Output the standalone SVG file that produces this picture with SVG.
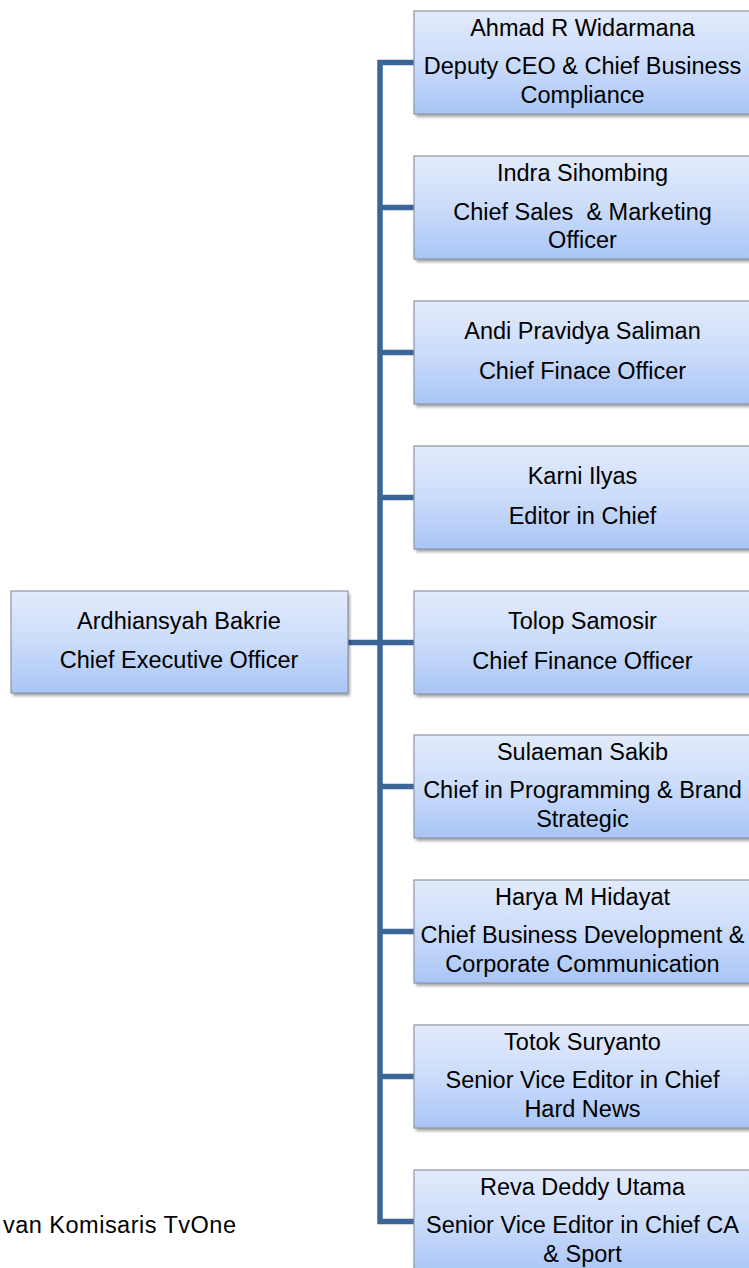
<svg xmlns="http://www.w3.org/2000/svg" width="749" height="1268" viewBox="0 0 749 1268">
<style>
.box{fill:url(#g);stroke:#8e96a3;stroke-width:1.2}
.sh{fill:#000;opacity:0.35;filter:url(#blur)}
text{font-family:"Liberation Sans",Arial,sans-serif;font-size:23.5px;fill:#000;text-anchor:middle;white-space:pre}
.conn{stroke:#3c6597;stroke-width:5.5;fill:none;stroke-linejoin:miter}
</style>
<defs>
<linearGradient id="g" x1="0" y1="0" x2="0" y2="1">
<stop offset="0" stop-color="#e3ebfb"/>
<stop offset="0.5" stop-color="#cbdcfa"/>
<stop offset="1" stop-color="#a9c5f6"/>
</linearGradient>
<filter id="blur" x="-10%" y="-10%" width="120%" height="130%"><feGaussianBlur stdDeviation="1.6"/></filter>
</defs>
<rect width="749" height="1268" fill="#fff"/>
<g id="connectors">
<path class="conn" d="M414,62.5 H380 V1221.5 H414"/>
<path class="conn" d="M380,207.5 H414 M380,352.5 H414 M380,497.5 H414 M348,642.5 H414 M380,786.5 H414 M380,931.5 H414 M380,1076.5 H414"/>
</g>
<g id="ceo">
<rect class="sh" x="13" y="594" width="337" height="102"/>
<rect class="box" x="11" y="591" width="337" height="102"/>
<text x="179" y="629">Ardhiansyah Bakrie</text>
<text x="179" y="668">Chief Executive Officer</text>
</g>
<g id="n1">
<rect class="sh" x="416" y="14" width="337" height="103"/>
<rect class="box" x="414" y="11" width="337" height="103"/>
<text x="582.5" y="36">Ahmad R Widarmana</text>
<text x="582.5" y="74">Deputy CEO &amp; Chief Business</text>
<text x="582.5" y="103">Compliance</text>
</g>
<g id="n2">
<rect class="sh" x="416" y="159" width="337" height="103"/>
<rect class="box" x="414" y="156" width="337" height="103"/>
<text x="582.5" y="181">Indra Sihombing</text>
<text x="582.5" y="220">Chief Sales  &amp; Marketing</text>
<text x="582.5" y="248">Officer</text>
</g>
<g id="n3">
<rect class="sh" x="416" y="304" width="337" height="103"/>
<rect class="box" x="414" y="301" width="337" height="103"/>
<text x="582.5" y="339">Andi Pravidya Saliman</text>
<text x="582.5" y="379">Chief Finace Officer</text>
</g>
<g id="n4">
<rect class="sh" x="416" y="449" width="337" height="103"/>
<rect class="box" x="414" y="446" width="337" height="103"/>
<text x="582.5" y="484">Karni Ilyas</text>
<text x="582.5" y="524">Editor in Chief</text>
</g>
<g id="n5">
<rect class="sh" x="416" y="594" width="337" height="103"/>
<rect class="box" x="414" y="591" width="337" height="103"/>
<text x="582.5" y="629">Tolop Samosir</text>
<text x="582.5" y="669">Chief Finance Officer</text>
</g>
<g id="n6">
<rect class="sh" x="416" y="738" width="337" height="103"/>
<rect class="box" x="414" y="735" width="337" height="103"/>
<text x="582.5" y="760">Sulaeman Sakib</text>
<text x="582.5" y="798">Chief in Programming &amp; Brand</text>
<text x="582.5" y="827">Strategic</text>
</g>
<g id="n7">
<rect class="sh" x="416" y="883" width="337" height="103"/>
<rect class="box" x="414" y="880" width="337" height="103"/>
<text x="582.5" y="905">Harya M Hidayat</text>
<text x="582.5" y="943">Chief Business Development &amp;</text>
<text x="582.5" y="972">Corporate Communication</text>
</g>
<g id="n8">
<rect class="sh" x="416" y="1028" width="337" height="103"/>
<rect class="box" x="414" y="1025" width="337" height="103"/>
<text x="582.5" y="1050">Totok Suryanto</text>
<text x="582.5" y="1088">Senior Vice Editor in Chief</text>
<text x="582.5" y="1117">Hard News</text>
</g>
<g id="n9">
<rect class="sh" x="416" y="1173" width="337" height="103"/>
<rect class="box" x="414" y="1170" width="337" height="103"/>
<text x="582.5" y="1195">Reva Deddy Utama</text>
<text x="582.5" y="1233">Senior Vice Editor in Chief CA</text>
<text x="582.5" y="1262">&amp; Sport</text>
</g>
<g id="board">
<text x="3" y="1233" style="text-anchor:start" textLength="233" lengthAdjust="spacing">van Komisaris TvOne</text>
</g>
</svg>
